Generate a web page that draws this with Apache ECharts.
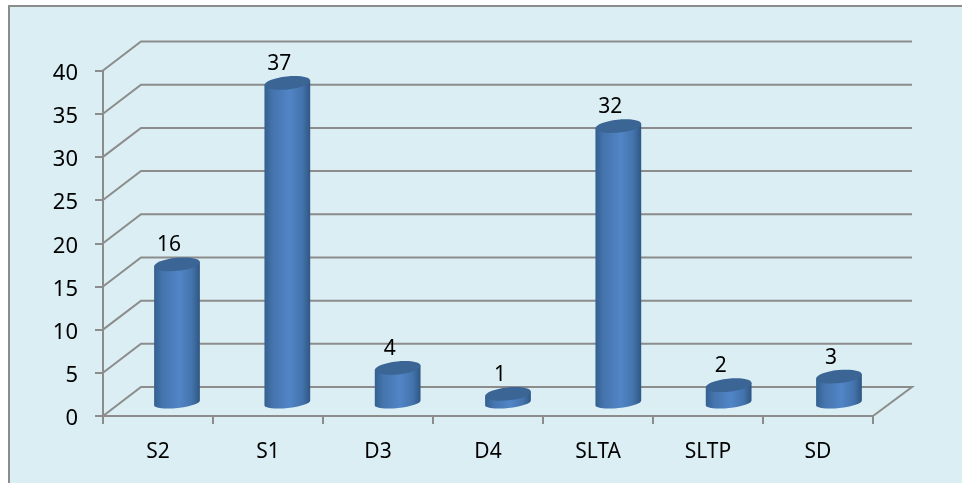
<!DOCTYPE html>
<html>
<head>
<meta charset="utf-8">
<style>html,body{margin:0;padding:0;background:#fff}#chart{width:962px;height:483px}</style>
<script src="https://cdn.jsdelivr.net/npm/echarts@6/dist/echarts.min.js"></script>
</head>
<body>
<div id="chart"></div>
<script>
var categories = ['S2', 'S1', 'D3', 'D4', 'SLTA', 'SLTP', 'SD'];
var values = [16, 37, 4, 1, 32, 2, 3];
var yTicks = [0, 5, 10, 15, 20, 25, 30, 35, 40];

var depthX = 38, depthY = 29;   // how far the back wall sits from the front axes
var lineColor = '#8c8c8c';
var textFont = 'Noto Sans';
var rx = 23, ry = 6.5, ryBottom = 5, tilt = 6;  // cylinder end ellipse

function wallLines(params, api) {
    var v = api.value(0);
    var box = params.coordSys;
    var y = api.coord([0, v])[1];
    var left = box.x, right = box.x + box.width;
    var points = [[left, y], [left + depthX, y - depthY], [right + depthX + 1, y - depthY]];
    if (v === 0) points.push([right, y]);
    return {
        type: 'polyline',
        shape: { points: points },
        style: { stroke: lineColor, lineWidth: 2, fill: null }
    };
}

function cylinder(params, api) {
    var pos = api.coord([api.value(0), api.value(1)]);
    var base = api.coord([api.value(0), 0]);
    // bars drift slightly right of the category centre in the 3d projection
    var cx = pos[0] + depthX / 2 + api.value(0) * 0.33;
    var topY = pos[1] - 13.5;
    var botY = base[1] - 13;
    var a = tilt * Math.PI / 180;
    var ex = rx * Math.cos(a), ey = rx * Math.sin(a);
    var body = 'M' + (cx - ex) + ' ' + (topY + ey) +
        ' L' + (cx - ex) + ' ' + (botY + ey) +
        ' A' + rx + ' ' + ryBottom + ' ' + (-tilt) + ' 0 0 ' + (cx + ex) + ' ' + (botY - ey) +
        ' L' + (cx + ex) + ' ' + (topY - ey) + ' Z';
    return {
        type: 'group',
        children: [
            {
                type: 'path',
                shape: { pathData: body },
                style: {
                    fill: new echarts.graphic.LinearGradient(0, 0, 1, 0, [
                        { offset: 0, color: '#33608f' },
                        { offset: 0.18, color: '#4574ad' },
                        { offset: 0.55, color: '#5185c7' },
                        { offset: 0.82, color: '#4474ad' },
                        { offset: 1, color: '#2f5683' }
                    ])
                }
            },
            {
                type: 'ellipse',
                shape: { cx: cx, cy: topY, rx: rx, ry: ry },
                rotation: tilt * Math.PI / 180,
                originX: cx,
                originY: topY,
                style: { fill: '#3a6595' }
            },
            {
                type: 'text',
                style: {
                    text: String(api.value(1)),
                    x: cx - 8,
                    y: topY - 19,
                    align: 'center',
                    verticalAlign: 'middle',
                    fontFamily: textFont,
                    fontSize: 21,
                    fill: '#000'
                }
            }
        ]
    };
}

var myChart = echarts.init(document.getElementById('chart'));
var option = {
    animation: false,
    backgroundColor: '#fff',
    graphic: [{
        type: 'rect',
        z: -1,
        shape: { x: 9, y: 6, width: 970, height: 490 },
        style: { fill: '#daeef3', stroke: '#8c8c8c', lineWidth: 2 }
    }],
    grid: { left: 103, right: 89, top: 70.5, bottom: 67 },
    xAxis: {
        type: 'category',
        data: categories,
        axisLine: { lineStyle: { color: lineColor, width: 2 } },
        axisTick: { show: true, length: 8, lineStyle: { color: lineColor, width: 2 } },
        axisLabel: { color: '#000', fontFamily: textFont, fontSize: 21, margin: 26 }
    },
    yAxis: {
        type: 'value',
        min: 0,
        max: 40,
        interval: 5,
        splitLine: { show: false },
        axisLine: { show: true, lineStyle: { color: lineColor, width: 2 } },
        axisTick: { show: true, length: 8, lineStyle: { color: lineColor, width: 2 } },
        axisLabel: {
            margin: 25,
            formatter: '{v|{value}}',
            rich: { v: { color: '#000', fontFamily: textFont, fontSize: 22, padding: [6, 0, 0, 0] } }
        }
    },
    series: [
        {
            type: 'custom',
            coordinateSystem: 'cartesian2d',
            renderItem: wallLines,
            data: yTicks.map(function (v) { return [v]; }),
            encode: { x: -1, y: 0 },
            silent: true
        },
        {
            type: 'custom',
            coordinateSystem: 'cartesian2d',
            renderItem: cylinder,
            data: values.map(function (v, i) { return [i, v]; }),
            encode: { x: 0, y: 1 }
        }
    ]
};
myChart.setOption(option);
</script>
</body>
</html>
